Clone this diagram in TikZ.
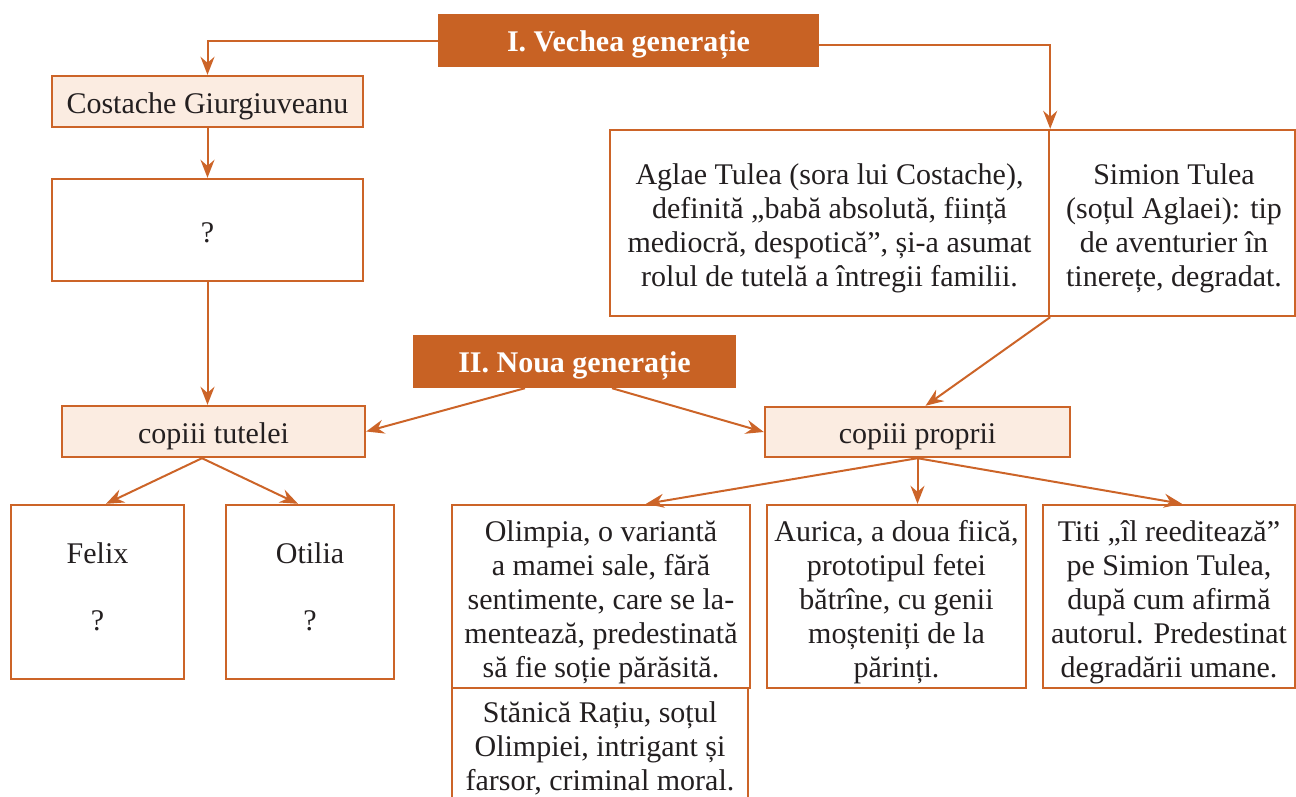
\documentclass[tikz,border=0pt]{standalone}
\usepackage{fontspec}
\setmainfont{Liberation Serif}
\usetikzlibrary{arrows.meta}
\definecolor{ora}{RGB}{200,98,36}
\definecolor{oraline}{RGB}{204,100,40}
\definecolor{peach}{RGB}{251,236,225}
\definecolor{txt}{RGB}{35,31,32}
\tikzset{
  bx/.style={draw=oraline, line width=2.4pt, rectangle, inner sep=0pt},
  lt/.style={bx, fill=peach},
  hd/.style={rectangle, fill=ora, draw=none, inner sep=0pt},
  tx/.style={inner sep=0pt, align=center, text=txt, font=\fontsize{30}{34}\selectfont},
  hx/.style={inner sep=0pt, align=center, text=white, font=\bfseries\fontsize{30}{34}\selectfont},
  con/.style={draw=oraline, line width=2pt, -{Stealth[length=18pt,width=14pt,inset=6pt]}}
}
\begin{document}
\begin{tikzpicture}[x=1pt,y=-1pt]
\useasboundingbox (0,0) rectangle (1296,796);
\clip (0,0) rectangle (1296,796);
% header boxes
\node[hd, minimum width=381pt, minimum height=53pt] (vechea) at (628.5,40.5) {};
\node[hx] (vecheaT) at ([yshift=-4.5pt]vechea.center) {I. Vechea generație};
\node[hd, minimum width=323pt, minimum height=53pt] (noua) at (574.5,361.5) {};
\node[hx] (nouaT) at ([yshift=-4.5pt]noua.center) {II. Noua generație};
% left column
\node[lt, minimum width=311pt, minimum height=51pt] (costache) at (207.5,101.5) {};
\node[tx] (costacheT) at ([yshift=-4.5pt]costache.center) {Costache Giurgiuveanu};
\node[bx, minimum width=311pt, minimum height=102pt] (q1) at (207.5,230) {};
\node[tx] (q1T) at ([yshift=-3pt]q1.center) {?};
\node[lt, minimum width=303pt, minimum height=51pt] (tutelei) at (213.5,431.5) {};
\node[tx] (tuteleiT) at ([yshift=-4.5pt]tutelei.center) {copiii tutelei};
\node[bx, minimum width=173pt, minimum height=174pt] (felix) at (97.5,592) {};
\node[tx] (felixT) at ([yshift=5pt]felix.center) {Felix\\[33pt]?};
\node[bx, minimum width=168pt, minimum height=174pt] (otilia) at (310,592) {};
\node[tx] (otiliaT) at ([yshift=5pt]otilia.center) {Otilia\\[33pt]?};
% right part
\node[bx, minimum width=439pt, minimum height=186pt] (aglae) at (829.5,223) {};
\node[tx] (aglaeT) at ([yshift=-5pt]aglae.center)
  {Aglae Tulea (sora lui Costache),\\definită „babă absolută, ființă\\mediocră, despotică”, și-a asumat\\rolul de tutelă a întregii familii.};
\node[bx, minimum width=246pt, minimum height=186pt] (simion) at (1172,223) {};
\node[tx] (simionT) at ([xshift=2pt,yshift=-5pt]simion.center)
  {Simion Tulea\\(soțul Aglaei): tip\\de aventurier în\\tinerețe, degradat.};
\node[lt, minimum width=305pt, minimum height=50pt] (proprii) at (917.5,432) {};
\node[tx] (propriiT) at ([yshift=-4.5pt]proprii.center) {copiii proprii};
\node[bx, minimum width=298pt, minimum height=183pt] (olimpia) at (601,596.5) {};
\node[tx] (olimpiaT) at ([yshift=-6pt]olimpia.center)
  {Olimpia, o variantă\\a mamei sale, fără\\sentimente, care se la-\\mentează, predestinată\\să fie soție părăsită.};
\node[bx, minimum width=296pt, minimum height=117pt] (stanica) at (600,746.5) {};
\node[tx] (stanicaT) at ([yshift=-1.5pt]stanica.center)
  {Stănică Rațiu, soțul\\Olimpiei, intrigant și\\farsor, criminal moral.};
\node[bx, minimum width=259pt, minimum height=183pt] (aurica) at (896.5,596.5) {};
\node[tx] (auricaT) at ([yshift=-6pt]aurica.center)
  {Aurica, a doua fiică,\\prototipul fetei\\bătrîne, cu genii\\moșteniți de la\\părinți.};
\node[bx, minimum width=252pt, minimum height=183pt] (titi) at (1169,596.5) {};
\node[tx] (titiT) at ([yshift=-6pt]titi.center)
  {Titi „îl reeditează”\\pe Simion Tulea,\\după cum afirmă\\autorul. Predestinat\\degradării umane.};
% connectors
\draw[con] (vechea.west) -| (costache.north);
\draw[con] ([yshift=-4.5pt]vechea.east) -| (aglae.north east);
\draw[con] (costache.south) -- (q1.north);
\draw[con] (q1.south) -- (q1.south |- tutelei.north);
\draw[con] ([xshift=-49.5pt]noua.south) -- (tutelei.east);
\draw[con] ([xshift=37.5pt]noua.south) -- (proprii.west);
\draw[con] (aglae.south east) -- ([xshift=8pt]proprii.north);
\draw[con] ([xshift=-11.5pt]tutelei.south) -- ([xshift=8.5pt]felix.north);
\draw[con] ([xshift=-11.5pt]tutelei.south) -- ([xshift=-12pt]otilia.north);
\draw[con] (proprii.south) -- ([xshift=45pt]olimpia.north);
\draw[con] (proprii.south) -- ([xshift=21pt]aurica.north);
\draw[con] (proprii.south) -- ([xshift=13pt]titi.north);
\end{tikzpicture}
\end{document}
